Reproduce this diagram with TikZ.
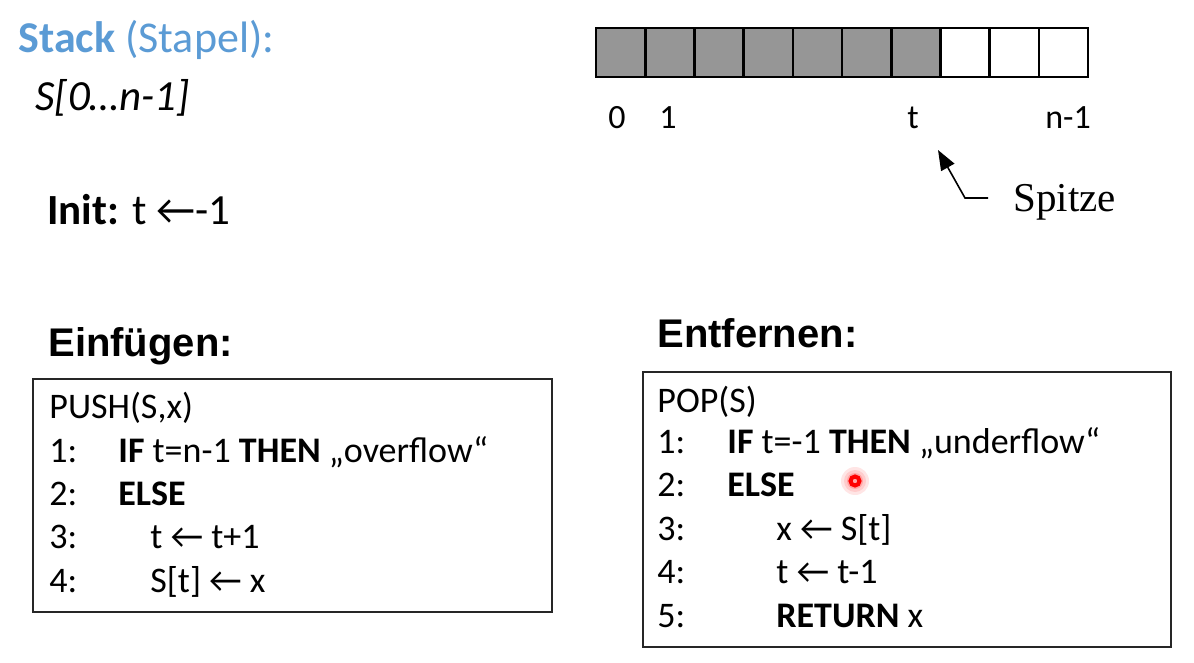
\documentclass[tikz,border=0pt]{standalone}
\usepackage{fontspec}
\setmainfont{Carlito}
\newfontfamily\headfont{Liberation Sans}
\newfontfamily\seriffont{Liberation Serif}
\usetikzlibrary{%
  arrows.meta%
}
\definecolor{stackblue}{RGB}{91,155,213}
\definecolor{cellgray}{RGB}{150,150,150}
\tikzset{%
  txt/.style={anchor=base west,inner sep=0pt},
  code/.style={txt,font=\fontsize{18}{22}\selectfont},
  head/.style={txt,font=\headfont\bfseries\fontsize{20}{24}\selectfont},
  lbl/.style={anchor=base,inner sep=0pt,font=\fontsize{17}{20}\selectfont},
  cell/.style={draw,line width=1.3pt,minimum width=24.6pt,minimum height=24.5pt,inner sep=0pt},
  box/.style={draw=black!85,line width=0.6pt},
  ptr/.style={-{Triangle[length=10pt,width=7.5pt]},line width=0.8pt}
}

\begin{document}
\begin{tikzpicture}[x=0.5pt,y=-0.5pt]
  \useasboundingbox (0,0) rectangle (1194,663);
  % links oben
  \node [txt,text=stackblue,font=\fontsize{22}{26}\selectfont] (title) at (18,53)
    {\textbf{Stack} (Stapel):};
  \node [txt,font=\fontsize{21.5}{25}\selectfont\itshape] (range) at (35,111) {S[0…n-1]};
  \node [txt,font=\fontsize{21.5}{25}\selectfont] (init) at (47,225) {\textbf{Init:} t ←-1};
  % Feld
  \foreach \i in {0,...,6}
    \node [cell,fill=cellgray] (c\i) at (620.6+49.2*\i,52.5) {};
  \foreach \i in {7,...,9}
    \node [cell] (c\i) at (620.6+49.2*\i,52.5) {};
  \node [lbl] (l0) at (617,129) {0};
  \node [lbl] (l1) at (668,129) {1};
  \node [lbl] (lt) at (913,129) {t};
  \node [lbl] (ln) at (1068,129) {n-1};
  % Spitze
  \node [txt,font=\seriffont\fontsize{20.5}{24}\selectfont] (spitze) at (1013,212) {Spitze};
  \coordinate (foot) at (988,198);
  \coordinate (knee) at (965,198);
  \coordinate (top) at (938,150);
  \draw [ptr] (foot) -- (knee) -- (top);
  % Einfuegen
  \node [head] (ins) at (48,357) {Einfügen:};
  \draw [box] (33,379) rectangle (552,612);
  \node [code] (p0) at (49,418) {PUSH(S,x)};
  \node [code] (p1) at (49,462) {1:};
  \node [code] (p2) at (49,505) {2:};
  \node [code] (p3) at (49,548) {3:};
  \node [code] (p4) at (49,592) {4:};
  \node [code] (s1) at (118,462) {\textbf{IF} t=n-1 \textbf{THEN} „overflow“};
  \node [code] (s2) at (118,505) {\textbf{ELSE}};
  \node [code] (s3) at (150,548) {t ← t+1};
  \node [code] (s4) at (150,592) {S[t] ← x};
  % Entfernen
  \node [head] (del) at (657,348) {Entfernen:};
  \draw [box] (643,372) rectangle (1171,647);
  \node [code] (q0) at (657,412) {POP(S)};
  \node [code] (q1) at (657,453) {1:};
  \node [code] (q2) at (657,496) {2:};
  \node [code] (q3) at (657,540) {3:};
  \node [code] (q4) at (657,583) {4:};
  \node [code] (q5) at (657,627) {5:};
  \node [code] (r1) at (727,453) {\textbf{IF} t=-1 \textbf{THEN} „underflow“};
  \node [code] (r2) at (727,496) {\textbf{ELSE}};
  \node [code] (r3) at (776,540) {x ← S[t]};
  \node [code] (r4) at (776,583) {t ← t-1};
  \node [code] (r5) at (776,627) {\textbf{RETURN} x};
  % Zeiger
  \fill [red!10] (855,481) circle (14);
  \fill [red!20] (855,481) circle (11);
  \fill [red!35] (855,481) circle (8);
  \draw [red,line width=2pt] (855,481) circle (4.5);
\end{tikzpicture}
\end{document}
